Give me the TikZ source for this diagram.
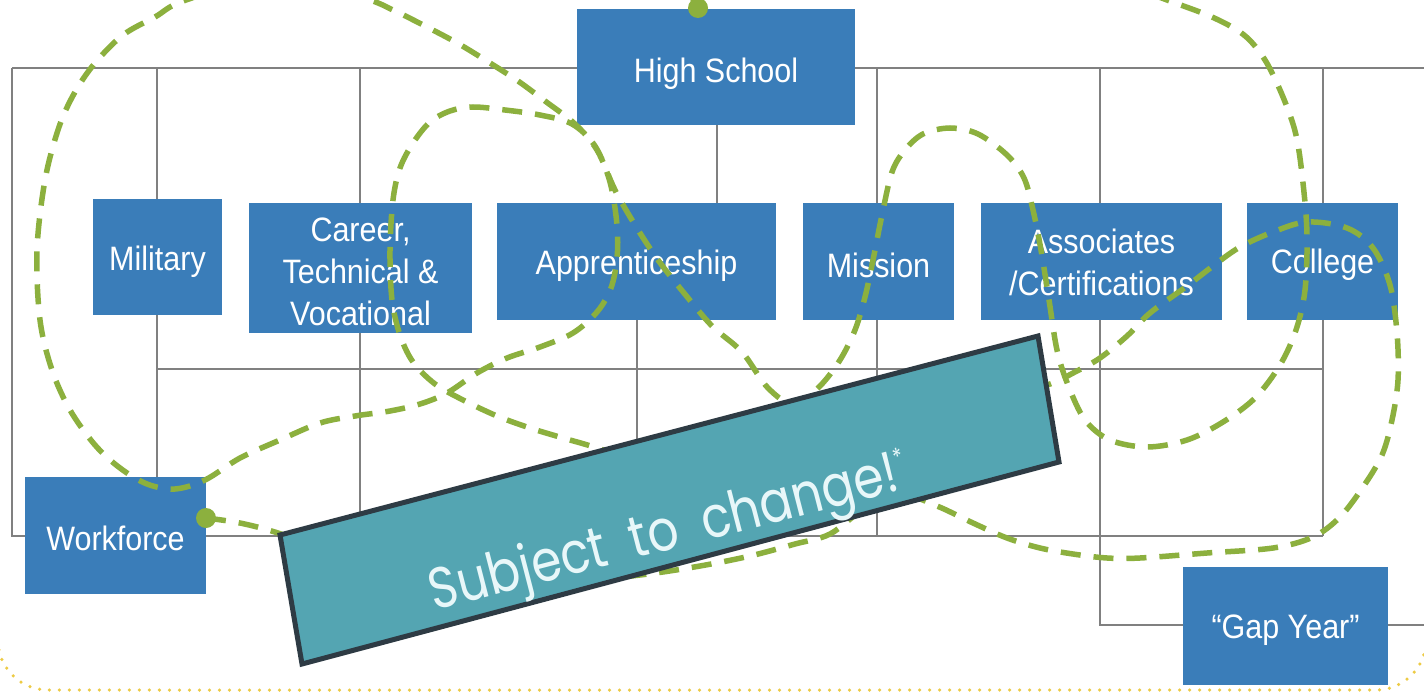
\documentclass[tikz,border=0pt]{standalone}
\usepackage{fontspec}
\newfontfamily\boxfont[FakeStretch=0.9]{Liberation Sans}
\newfontfamily\banfont[FakeStretch=0.84]{Poppins}
\definecolor{boxblue}{HTML}{3A7DB9}
\definecolor{trailgreen}{HTML}{8CB03E}
\definecolor{bannerfill}{HTML}{54A5B2}
\definecolor{bannerborder}{HTML}{2E3B44}
\definecolor{gridgray}{HTML}{808080}
\definecolor{dotyellow}{HTML}{EDCB45}
\definecolor{bannertext}{HTML}{E8F7F9}
\begin{document}
\begin{tikzpicture}[x=1bp,y=-1bp,
  gridline/.style={draw=gridgray, line width=1.5bp},
  pbox/.style={fill=boxblue, inner sep=0pt},
  boxtext/.style={text=white, font=\boxfont\fontsize{34}{42}\selectfont, align=center, inner sep=0pt},
  trail/.style={draw=trailgreen, line width=5.5bp, dash pattern=on 20bp off 13bp},
  trailpt/.style={circle, fill=trailgreen, inner sep=0pt, minimum size=20bp},
  bannerbox/.style={draw=bannerborder, line width=5bp, fill=bannerfill, line join=miter},
  yellowdots/.style={draw=dotyellow, line width=3.5bp, dash pattern=on 0bp off 10bp, line cap=round}]
\useasboundingbox (0,0) rectangle (1424,692);
\clip (0,0) rectangle (1424,692);
\fill[white] (0,0) rectangle (1424,692);

% grid lines
\draw[gridline] (12,68) -- (1424,68);
\draw[gridline] (12,68) -- (12,536) -- (1323,536);
\draw[gridline] (157,369) -- (1323,369);
\draw[gridline] (157,68) -- (157,536);
\draw[gridline] (360,68) -- (360,536);
\draw[gridline] (717,110) -- (717,210);
\draw[gridline] (637,300) -- (637,536);
\draw[gridline] (877,68) -- (877,536);
\draw[gridline] (1100,68) -- (1100,625) -- (1424,625);
\draw[gridline] (1323,68) -- (1323,536);

% boxes
\node[pbox, minimum width=278bp, minimum height=116bp] (hs) at (716,67) {};
\node[pbox, minimum width=129bp, minimum height=116bp] (mil) at (157.5,257) {};
\node[pbox, minimum width=223bp, minimum height=130bp] (ctv) at (360.5,268) {};
\node[pbox, minimum width=279bp, minimum height=117bp] (app) at (636.5,261.5) {};
\node[pbox, minimum width=151bp, minimum height=117bp] (mis) at (878.5,261.5) {};
\node[pbox, minimum width=241bp, minimum height=117bp] (asc) at (1101.5,261.5) {};
\node[pbox, minimum width=151bp, minimum height=117bp] (col) at (1322.5,261.5) {};
\node[pbox, minimum width=181bp, minimum height=117bp] (wf) at (115.5,535.5) {};
\node[pbox, minimum width=205bp, minimum height=118bp] (gap) at (1285.5,626) {};

% box texts
\node[boxtext] (hs-t)  at ([yshift=-7bp]hs.center)  {High School};
\node[boxtext] (mil-t) at ([yshift=-5bp]mil.center) {Military};
\node[boxtext] (ctv-t) at ([yshift=-4bp]ctv.center) {Career,\\Technical \&\\Vocational};
\node[boxtext] (app-t) at ([yshift=-4bp]app.center) {Apprenticeship};
\node[boxtext] (mis-t) at ([yshift=-4bp]mis.center) {Mission};
\node[boxtext] (asc-t) at ([yshift=-1bp]asc.center) {Associates\\/Certifications};
\node[boxtext] (col-t) at ([yshift=-3bp]col.center) {College};
\node[boxtext] (wf-t)  at ([yshift=-3bp]wf.center)  {Workforce};
\node[boxtext] (gap-t) at ([yshift=-4bp]gap.center) {“Gap Year”};

% dots
\node[trailpt] (hsdot) at (698,8) {};
\node[trailpt] (wfdot) at (206,518) {};

% dashed trails
\draw[trail] plot[smooth, tension=0.55] coordinates {
 (hsdot.center) (690,-40) (800,-70) (1000,-60) (1100,-25) (1167,0) (1212,17) (1244,35) (1265,60)
 (1283,97) (1296,135) (1303,183) (1307,235) (1305,290) (1296,330) (1280,365) (1255,398)
 (1223,422) (1187,440) (1147,447) (1110,440) (1085,420) (1068,385) (1057,350) (1049,300)
 (1041,250) (1033,210) (1024,178) (1007,155) (978,134) (950,128) (923,134) (905,150)
 (892,172) (882,215) (873,260) (865,297) (855,330) (840,360) (820,386) (795,405)
 (768,388) (742,352) (712,326) (684,293) (658,260) (635,225) (615,190) (597,150)
 (575,124) (545,101) (518,81) (490,63) (459,44) (427,27) (395,11) (364,-2) (280,-25)
 (186,0) (155,17) (123,35) (95,63) (75,92) (59,127) (45,180) (37,250) (40,320) (52,370)
 (70,410) (95,445) (120,468) (147,484) (175,489) (205,480) (240,458) (280,440) (320,423)
 (355,416) (390,411) (420,404) (447,393) (477,373) (507,358) (540,347) (573,333) (597,312)
 (611,288) (617,258) (617,225) (610,182) (595,146) (572,124) (540,115) (505,110) (473,107)
 (450,111) (430,122) (413,143) (400,168) (393,200) (390,250) (392,300) (400,335) (413,362)
 (435,384) (463,400) (497,416) (530,428) (563,438) (597,448) (660,470)};
\draw[trail] plot[smooth, tension=0.55] coordinates {
 (wfdot.center) (240,523) (278,533) (340,555) (440,578) (560,582) (640,575) (700,566)
 (750,556) (795,544) (830,534) (865,508) (900,494) (937,506) (973,523) (1007,538)
 (1040,548) (1073,554) (1107,558) (1140,558) (1207,553) (1273,548) (1313,537) (1340,517)
 (1363,487) (1382,455) (1392,420) (1398,380) (1397,333) (1390,285) (1373,248) (1347,228)
 (1307,222) (1273,232) (1240,247) (1213,266) (1187,286) (1150,313) (1127,336) (1100,358)
 (1075,372) (1050,384) (1010,395)};

% banner
\filldraw[bannerbox] (280,535) -- (1038,336) -- (1059,462) -- (302,664) -- cycle;
\node[rotate=14.5, anchor=base, text=bannertext, inner sep=0pt,
      font=\banfont\fontsize{58}{58}\selectfont] (bantext) at (673,549)
      {Subject\hspace{12bp} to\hspace{12bp} change!\raisebox{0.42em}{\fontsize{24}{24}\selectfont *}};

% yellow dotted frame
\draw[yellowdots, rounded corners=50bp] (-2,-100) -- (-2,690) -- (1426,690) -- (1426,-100);
\end{tikzpicture}
\end{document}
